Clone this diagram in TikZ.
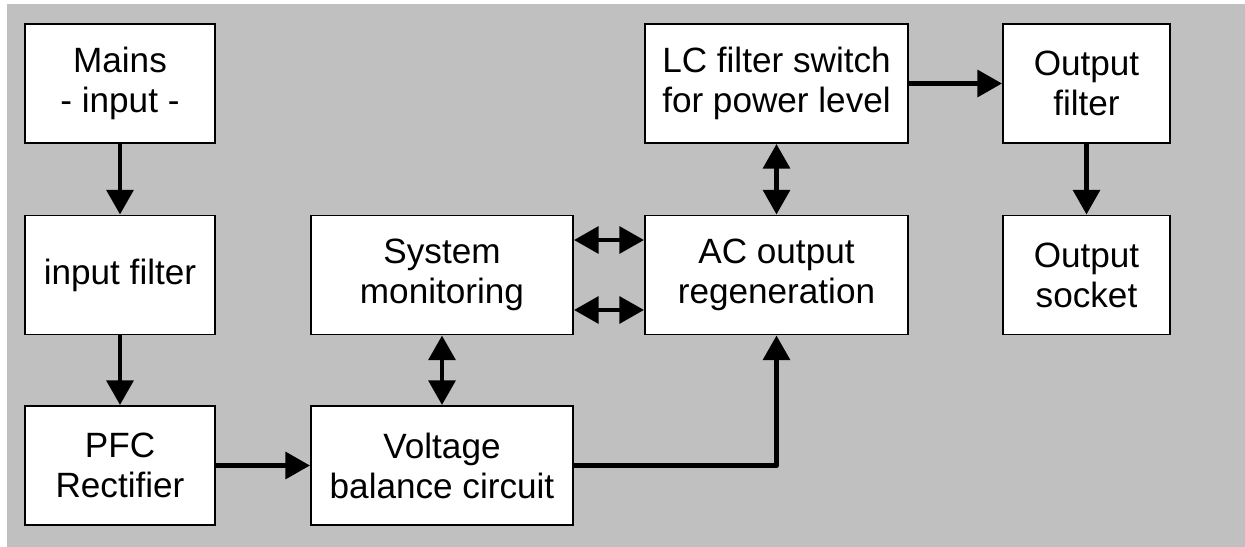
\documentclass[tikz,border=0pt]{standalone}
\usepackage{fontspec}
\setmainfont{Liberation Sans}
\usetikzlibrary{arrows.meta}
\definecolor{bggray}{RGB}{192,192,192}
\tikzset{
  blk/.style={draw, fill=white, line width=1.1pt, align=center, inner sep=0pt,
    minimum height=2.38cm, font=\fontsize{20}{22.7}\selectfont},
  flow/.style={line width=2.8pt, line join=round, -{Triangle[width=15pt,length=14pt]}},
  both/.style={line width=2.8pt, {Triangle[width=15pt,length=14pt]}-{Triangle[width=15pt,length=14pt]}}
}

\begin{document}
\begin{tikzpicture}[x=0.02cm,y=-0.02cm]
\useasboundingbox (0,0) rectangle (1245,547);
\fill[bggray] (7,4) rectangle (1245,547);
% blocks
\node[blk, minimum width=3.8cm] (mains) at (120,83.5) {Mains\\- input -};
\node[blk, minimum width=3.8cm] (infilt) at (120,275) {input filter};
\node[blk, minimum width=3.8cm] (pfc) at (120,465.5) {PFC\\Rectifier};
\node[blk, minimum width=5.24cm] (sysmon) at (442,275) {System\\monitoring};
\node[blk, minimum width=5.24cm] (volt) at (442,465.5) {Voltage\\balance circuit};
\node[blk, minimum width=5.26cm] (acout) at (776.5,275) {AC output\\regeneration};
\node[blk, minimum width=5.26cm] (lcsw) at (776.5,83.5) {LC filter switch\\for power level};
\node[blk, minimum width=3.34cm] (outfilt) at (1086.5,83.5) {Output\\filter};
\node[blk, minimum width=3.34cm] (socket) at (1086.5,275) {Output\\socket};
% connections
\draw[flow] (mains) -- (infilt);
\draw[flow] (infilt) -- (pfc);
\draw[flow] (pfc) -- (volt);
\draw[flow] (volt) -| (acout);
\draw[both] (sysmon) -- (volt);
\draw[both] ([yshift=0.7cm]sysmon.east) -- ([yshift=0.7cm]acout.west);
\draw[both] ([yshift=-0.7cm]sysmon.east) -- ([yshift=-0.7cm]acout.west);
\draw[both] (lcsw) -- (acout);
\draw[flow] (lcsw) -- (outfilt);
\draw[flow] (outfilt) -- (socket);
\end{tikzpicture}
\end{document}
